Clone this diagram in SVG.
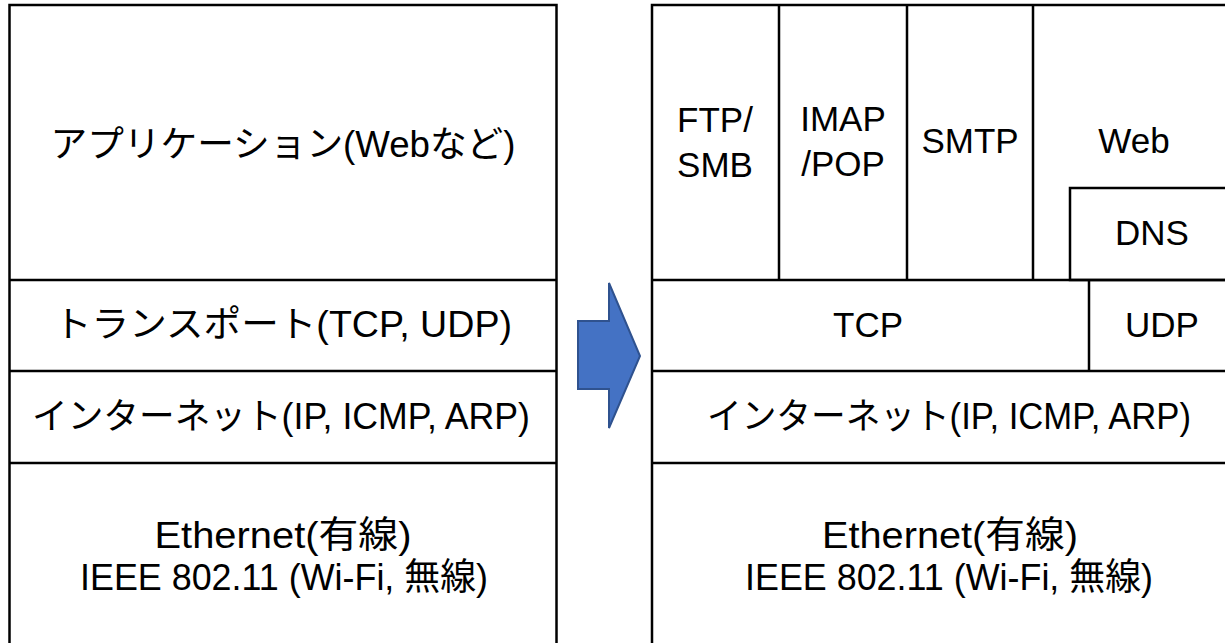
<svg xmlns="http://www.w3.org/2000/svg" width="1225" height="643" viewBox="0 0 1225 643">
  <style>
    .cell { fill: #ffffff; stroke: #000000; stroke-width: 2.5; }
    .rule { stroke: #000000; stroke-width: 2.5; fill: none; }
    .lbl { font-family: "Liberation Sans", "Noto Sans CJK JP", sans-serif; font-size: 35px; fill: #000000; text-anchor: middle; }
    .jp { font-size: 36px; }
    .link { font-size: 37px; }
    .arrow { fill: #4472C4; stroke: #2F528F; stroke-width: 2; stroke-linejoin: miter; }
  </style>
  <rect x="0" y="0" width="1225" height="643" fill="#ffffff"/>

  <!-- Left stack: four layers -->
  <g id="left-stack">
    <rect class="cell" x="9.5" y="5" width="547" height="700"/>
    <g id="left-application">
      <text class="lbl jp" x="283" y="157" textLength="465" lengthAdjust="spacingAndGlyphs">アプリケーション(Webなど)</text>
    </g>
    <g id="left-transport">
      <line class="rule" x1="9.5" y1="280" x2="556.5" y2="280"/>
      <text class="lbl jp" x="283" y="337" textLength="458" lengthAdjust="spacingAndGlyphs">トランスポート(TCP, UDP)</text>
    </g>
    <g id="left-internet">
      <line class="rule" x1="9.5" y1="371" x2="556.5" y2="371"/>
      <text class="lbl jp" x="281" y="429" textLength="498" lengthAdjust="spacingAndGlyphs">インターネット(IP, ICMP, ARP)</text>
    </g>
    <g id="left-link">
      <line class="rule" x1="9.5" y1="463" x2="556.5" y2="463"/>
      <text class="lbl link" x="283" y="548" textLength="257" lengthAdjust="spacingAndGlyphs">Ethernet(有線)</text>
      <text class="lbl link" x="284" y="590" textLength="408" lengthAdjust="spacingAndGlyphs">IEEE 802.11 (Wi-Fi, 無線)</text>
    </g>
  </g>

  <!-- Block arrow between the stacks -->
  <g id="connectors">
    <path class="arrow" d="M578,321 L609,321 L609,283 L640,356 L609,428 L609,389 L578,389 Z"/>
  </g>

  <!-- Right stack: application row split into protocols -->
  <g id="right-stack">
    <rect class="cell" x="652" y="5" width="583" height="700"/>
    <g id="right-ftp">
      <text class="lbl" x="715" y="132">FTP/</text>
      <text class="lbl" x="715" y="177">SMB</text>
    </g>
    <g id="right-imap">
      <line class="rule" x1="779" y1="5" x2="779" y2="280"/>
      <text class="lbl" x="843" y="131">IMAP</text>
      <text class="lbl" x="843" y="176">/POP</text>
    </g>
    <g id="right-smtp">
      <line class="rule" x1="907" y1="5" x2="907" y2="280"/>
      <text class="lbl" x="970" y="153">SMTP</text>
    </g>
    <g id="right-web">
      <line class="rule" x1="1033" y1="5" x2="1033" y2="280"/>
      <text class="lbl" x="1134" y="153">Web</text>
    </g>
    <g id="right-dns">
      <rect class="cell" x="1070" y="188" width="200" height="92"/>
      <text class="lbl" x="1152" y="245">DNS</text>
    </g>
    <g id="right-tcp">
      <line class="rule" x1="652" y1="280" x2="1235" y2="280"/>
      <text class="lbl" x="868" y="337">TCP</text>
    </g>
    <g id="right-udp">
      <line class="rule" x1="1089" y1="280" x2="1089" y2="371"/>
      <text class="lbl" x="1162" y="337">UDP</text>
    </g>
    <g id="right-internet">
      <line class="rule" x1="652" y1="371" x2="1235" y2="371"/>
      <text class="lbl jp" x="949" y="429" textLength="484" lengthAdjust="spacingAndGlyphs">インターネット(IP, ICMP, ARP)</text>
    </g>
    <g id="right-link">
      <line class="rule" x1="652" y1="463" x2="1235" y2="463"/>
      <text class="lbl link" x="950" y="548" textLength="256" lengthAdjust="spacingAndGlyphs">Ethernet(有線)</text>
      <text class="lbl link" x="949" y="590" textLength="408" lengthAdjust="spacingAndGlyphs">IEEE 802.11 (Wi-Fi, 無線)</text>
    </g>
  </g>
</svg>
